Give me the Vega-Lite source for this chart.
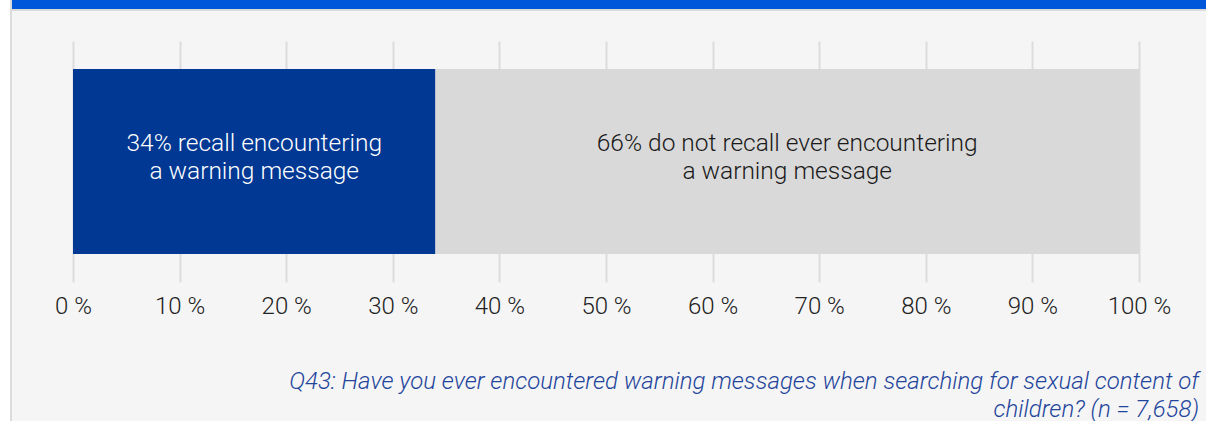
{
  "$schema": "https://vega.github.io/schema/vega-lite/v6.json",
  "background": "#f5f5f5",
  "padding": 0,
  "config": {
    "font": "Roboto",
    "view": {"stroke": null},
    "concat": {"spacing": 0}
  },
  "bounds": "flush",
  "spacing": 0,
  "hconcat": [
    {
      "width": 10,
      "height": 421,
      "data": {"values": []},
      "mark": "point",
      "view": {"fill": "#ffffff", "stroke": null}
    },
    {
      "width": 2,
      "height": 421,
      "data": {"values": []},
      "mark": "point",
      "view": {"fill": "#dcdcdc", "stroke": null}
    },
    {
      "bounds": "flush",
      "spacing": 0,
      "vconcat": [
        {
          "width": 1194,
          "height": 9,
          "data": {"values": []},
          "mark": "point",
          "view": {"fill": "#0057d9", "stroke": null}
        },
        {
          "width": 1194,
          "height": 2,
          "data": {"values": []},
          "mark": "point",
          "view": {"fill": "#dadada", "stroke": null}
        },
        {
          "width": 1194,
          "height": 30,
          "data": {"values": []},
          "mark": "point",
          "view": {"stroke": null}
        },
        {
          "bounds": "flush",
          "spacing": 0,
          "hconcat": [
            {
              "width": 61,
              "height": 241,
              "data": {"values": []},
              "mark": "point",
              "view": {"stroke": null}
            },
            {
              "width": 1066,
              "height": 241,
              "data": {
                "values": [
                  {"question": "Q43", "response": "recall", "rank": 1, "value": 34, "label": "34% recall encountering\na warning message"},
                  {"question": "Q43", "response": "no recall", "rank": 2, "value": 66, "label": "66% do not recall ever encountering\na warning message"}
                ]
              },
              "title": {
                "text": ["Q43: Have you ever encountered warning messages when searching for sexual content of", "children? (n = 7,658)"],
                "orient": "bottom",
                "anchor": "end",
                "frame": "group",
                "align": "right",
                "dx": 60,
                "offset": 52,
                "fontSize": 24,
                "font": "Roboto",
                "fontStyle": "italic",
                "fontWeight": 300,
                "color": "#1f459c",
                "lineHeight": 28.2
              },
              "encoding": {
                "y": {
                  "field": "question",
                  "type": "nominal",
                  "axis": null,
                  "scale": {"paddingInner": 0, "paddingOuter": 0.1514}
                }
              },
              "layer": [
                {
                  "mark": {"type": "bar"},
                  "encoding": {
                    "x": {
                      "field": "value",
                      "type": "quantitative",
                      "stack": "zero",
                      "scale": {"domain": [0, 100], "nice": false},
                      "axis": {
                        "title": null,
                        "values": [0, 10, 20, 30, 40, 50, 60, 70, 80, 90, 100],
                        "labelExpr": "datum.value + ' %'",
                        "labelFlush": false,
                        "domain": false,
                        "ticks": false,
                        "grid": true,
                        "gridColor": "#dcdcdc",
                        "gridWidth": 2,
                        "labelFontSize": 24,
                        "labelFontWeight": 300,
                        "labelColor": "#222222",
                        "labelPadding": 12,
                        "labelFont": "Roboto"
                      }
                    },
                    "order": {"field": "rank"},
                    "color": {
                      "field": "response",
                      "type": "nominal",
                      "scale": {"domain": ["recall", "no recall"], "range": ["#003893", "#d9d9d9"]},
                      "legend": null
                    }
                  }
                },
                {
                  "transform": [
                    {"stack": "value", "groupby": ["question"], "sort": [{"field": "rank"}], "as": ["x0", "x1"]},
                    {"fold": ["x0", "x1"], "as": ["edge", "pos"]}
                  ],
                  "mark": {"type": "text", "lineBreak": "\n", "fontSize": 24.5, "fontWeight": 300, "font": "Roboto", "lineHeight": 28.8, "dy": -18, "align": "center", "baseline": "middle"},
                  "encoding": {
                    "x": {"aggregate": "mean", "field": "pos", "type": "quantitative"},
                    "text": {"field": "label"},
                    "detail": {"field": "response"},
                    "color": {
                      "condition": {"test": "datum.response == 'recall'", "value": "#ffffff"},
                      "value": "#1a1a1a"
                    }
                  }
                }
              ]
            }
          ]
        }
      ]
    }
  ]
}
